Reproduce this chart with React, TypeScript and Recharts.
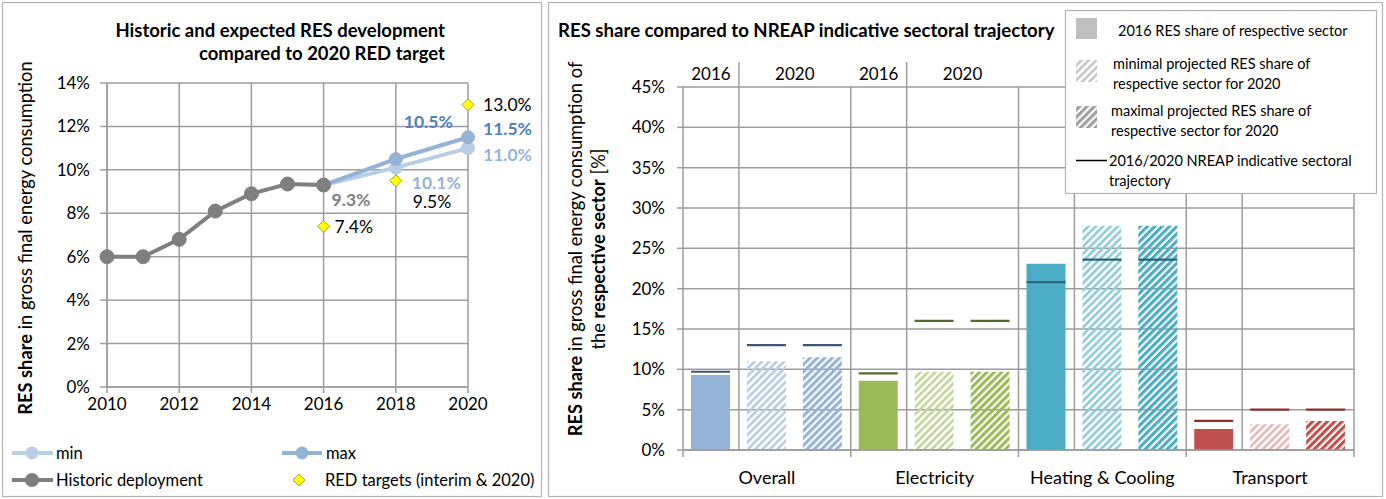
import React from 'react';
import { LineChart, Line, XAxis, YAxis, CartesianGrid, ComposedChart, Bar, Cell } from 'recharts';

const FONT = 'Lato, "Noto Sans", sans-serif';
const GRID = '#9d9d9d';
const BORDER = '#b4b4b4';

// ---------------- Left chart data ----------------
const years = [2010, 2011, 2012, 2013, 2014, 2015, 2016, 2018, 2020];
const historic: (number | null)[] = [6.0, 6.0, 6.8, 8.1, 8.9, 9.35, 9.3, null, null];
const projectedMin: (number | null)[] = [null, null, null, null, null, null, 9.3, 10.1, 11.0];
const projectedMax: (number | null)[] = [null, null, null, null, null, null, 9.3, 10.5, 11.5];
const redTargets: (number | null)[] = [null, null, null, null, null, null, 7.4, 9.5, 13.0];
const leftYTicks = [0, 2, 4, 6, 8, 10, 12, 14];
const leftXTicks = [2010, 2012, 2014, 2016, 2018, 2020];

// ---------------- Right chart data ----------------
const sectors = ['Overall', 'Electricity', 'Heating & Cooling', 'Transport'];
const share2016 = [9.3, 8.6, 23.1, 2.6];
const minProjected2020 = [11.0, 9.7, 27.8, 3.2];
const maxProjected2020 = [11.5, 9.7, 27.8, 3.6];
const nreap2016 = [9.7, 9.5, 20.8, 3.6];
const nreap2020 = [13.0, 16.0, 23.6, 5.0];
const periodLabels = ['2016', '2020'];
const sectorsWithPeriodHeader = 2; // the legend box hides the header of the last two sectors
const rightYTicks = [0, 5, 10, 15, 20, 25, 30, 35, 40, 45];

// colours
const C_HIST = '#7f7f7f';
const C_MAX = '#95b3d7';
const C_MIN = '#b9cde5';
const C_MAXLBL = '#4f81bd';
const sectorColors = ['#95b3d7', '#9bbb59', '#4bacc6', '#c0504d'];
const sectorLight = ['#b9cde5', '#c3d69b', '#92cddc', '#e6b9b8'];
const nreapColors = ['#3a5576', '#566b2c', '#2b6676', '#8a2f2c'];

const leftRows = years.map((year, i) => ({
  year,
  historic: historic[i],
  min: projectedMin[i],
  max: projectedMax[i],
  target: redTargets[i],
}));

const barRows = sectors.flatMap((s, i) => [
  { slot: s + '|2016', sector: i, kind: 0, value: share2016[i], nreap: nreap2016[i] },
  { slot: s + '|min', sector: i, kind: 1, value: minProjected2020[i], nreap: nreap2020[i] },
  { slot: s + '|max', sector: i, kind: 2, value: maxProjected2020[i], nreap: nreap2020[i] },
]);

// label placement (text start offset from point, px)
const labelOffsets: Record<string, Record<number, [number, number]>> = {
  historic: { 2016: [8, 14] },
  min: { 2018: [16, 15], 2020: [15, 6] },
  max: { 2018: [8, -38], 2020: [15, -9] },
  target: { 2016: [11, 0], 2018: [17, 21], 2020: [15, 0] },
};

const makeLabel = (series: string, color: string, bold: boolean) => (props: any) => {
  const { x, y, value, index } = props;
  if (value == null || x == null || y == null) return <g />;
  const yr = leftRows[index]?.year;
  const off = labelOffsets[series][yr];
  if (!off) return <g />;
  return (
    <text
      x={x + off[0]}
      y={y + off[1]}
      dominantBaseline="central"
      fill={color}
      fontWeight={bold ? 700 : 400}
      fontSize={17.5}
      fontFamily={FONT}
    >
      {Number(value).toFixed(1)}%
    </text>
  );
};

const Diamond = (props: any) => {
  const { cx, cy, payload } = props;
  if (cx == null || cy == null || payload?.target == null) return <g />;
  const s = 6;
  return (
    <path
      d={`M${cx},${cy - s} L${cx + s},${cy} L${cx},${cy + s} L${cx - s},${cy} Z`}
      fill="#ffff00"
      stroke="#8c8c30"
      strokeWidth={0.8}
    />
  );
};

// right chart geometry (svg-local)
const R_W = 838;
const R_H = 499;
const R_MARGIN = { top: 62, right: 32, bottom: 9, left: 75 };
const R_YAXIS_W = 60;
const R_PLOT_L = R_MARGIN.left + R_YAXIS_W;
const R_PLOT_W = R_W - R_MARGIN.right - R_PLOT_L;
const R_PLOT_T = 87;
const R_PLOT_B = 450;
const BW = R_PLOT_W / 12;

const TopTick = (props: any) => {
  const { x, index } = props;
  const k = index % 3;
  if (Math.floor(index / 3) >= sectorsWithPeriodHeader) return <g />;
  const tStyle = { fontFamily: FONT, fontSize: 17, fill: '#000' };
  if (k === 0)
    return (
      <g>
        <text x={x} y={73} textAnchor="middle" dominantBaseline="central" style={tStyle}>
          {periodLabels[0]}
        </text>
        <line x1={x + BW / 2} x2={x + BW / 2} y1={62} y2={R_PLOT_T} stroke={GRID} strokeWidth={1.5} />
      </g>
    );
  if (k === 2)
    return (
      <text x={x - BW / 2} y={73} textAnchor="middle" dominantBaseline="central" style={tStyle}>
        {periodLabels[1]}
      </text>
    );
  return <g />;
};

const BottomTick = (props: any) => {
  const { x, index } = props;
  const k = index % 3;
  return (
    <g>
      {k === 0 && (
        <line x1={x - BW / 2} x2={x - BW / 2} y1={R_PLOT_B} y2={R_PLOT_B + 7} stroke={GRID} strokeWidth={1.5} />
      )}
      {index === 11 && (
        <line x1={x + BW / 2} x2={x + BW / 2} y1={R_PLOT_B} y2={R_PLOT_B + 7} stroke={GRID} strokeWidth={1.5} />
      )}
      {k === 1 && (
        <text
          x={x}
          y={477}
          textAnchor="middle"
          dominantBaseline="central"
          style={{ fontFamily: FONT, fontSize: 18, fill: '#000' }}
        >
          {sectors[Math.floor(index / 3)]}
        </text>
      )}
    </g>
  );
};

const NreapLine = (props: any) => {
  const { x, y, width, index } = props;
  const row = barRows[index];
  if (x == null || y == null || !row) return <g />;
  return (
    <line x1={x} x2={x + width} y1={y} y2={y} stroke={nreapColors[row.sector]} strokeWidth={2.2} />
  );
};

const fillFor = (row: any) => {
  if (row.kind === 0) return sectorColors[row.sector];
  if (row.kind === 1) return `url(#hatch-min-${row.sector})`;
  return `url(#hatch-max-${row.sector})`;
};

const Hatch = ({ id, color, w }: { id: string; color: string; w: number }) => (
  <pattern id={id} patternUnits="userSpaceOnUse" width={5.2} height={5.2} patternTransform="rotate(45)">
    <rect x={0} y={0} width={w} height={5.2} fill={color} />
  </pattern>
);

export default function App() {
  const leftTick = { fontFamily: FONT, fontSize: 17, fill: '#000' };
  const txt = { fontFamily: FONT, fill: '#000' } as const;
  return (
    <div style={{ position: 'absolute', left: 0, top: 0, width: 1386, height: 499, background: '#fff', fontFamily: FONT }}>
      <svg width={0} height={0} style={{ position: 'absolute' }}>
        <defs>
          {sectorColors.map((c, i) => (
            <Hatch key={'mx' + i} id={`hatch-max-${i}`} color={c} w={3.1} />
          ))}
          {sectorLight.map((c, i) => (
            <Hatch key={'mn' + i} id={`hatch-min-${i}`} color={c} w={2.7} />
          ))}
          <Hatch id="hatch-min-gray" color="#c8c8c8" w={2.7} />
          <Hatch id="hatch-max-gray" color="#a0a0a0" w={3.1} />
        </defs>
      </svg>

      {/* Left chart */}
      <div style={{ position: 'absolute', left: 0, top: 0 }}>
        <LineChart width={545} height={499} data={leftRows} margin={{ top: 83, right: 77, bottom: 82, left: 47 }}>
          <CartesianGrid stroke={GRID} strokeWidth={1.5} />
          <XAxis
            type="number"
            dataKey="year"
            domain={[2010, 2020]}
            ticks={leftXTicks}
            height={30}
            tickSize={6}
            tickMargin={5}
            stroke={GRID}
            strokeWidth={1.5}
            tick={leftTick}
            interval={0}
          />
          <YAxis
            type="number"
            domain={[0, 14]}
            ticks={leftYTicks}
            width={60}
            tickSize={7}
            tickMargin={10}
            stroke={GRID}
            strokeWidth={1.5}
            tick={leftTick}
            tickFormatter={(v: number) => `${v}%`}
            interval={0}
          />
          <Line
            dataKey="min"
            stroke={C_MIN}
            strokeWidth={4}
            dot={{ r: 6.5, fill: C_MIN, stroke: C_MIN, strokeWidth: 1 }}
            activeDot={false}
            isAnimationActive={false}
            label={makeLabel('min', C_MAX, true)}
          />
          <Line
            dataKey="max"
            stroke={C_MAX}
            strokeWidth={4}
            dot={{ r: 6.5, fill: C_MAX, stroke: C_MAX, strokeWidth: 1 }}
            activeDot={false}
            isAnimationActive={false}
            label={makeLabel('max', C_MAXLBL, true)}
          />
          <Line
            dataKey="historic"
            stroke={C_HIST}
            strokeWidth={4}
            dot={{ r: 7, fill: C_HIST, stroke: C_HIST, strokeWidth: 1 }}
            activeDot={false}
            isAnimationActive={false}
            label={makeLabel('historic', C_HIST, true)}
          />
          <Line
            dataKey="target"
            stroke="none"
            dot={<Diamond />}
            activeDot={false}
            isAnimationActive={false}
            label={makeLabel('target', '#000', false)}
          />
        </LineChart>
      </div>

      {/* Right chart */}
      <div style={{ position: 'absolute', left: 548, top: 0 }}>
        <ComposedChart width={R_W} height={R_H} data={barRows} margin={R_MARGIN}>
          <CartesianGrid
            stroke={GRID}
            strokeWidth={1.5}
            verticalCoordinatesGenerator={(p: any) => {
              const l = p?.offset?.left ?? R_PLOT_L;
              const w = p?.offset?.width ?? R_PLOT_W;
              return [1, 3, 4, 6, 7, 9, 10, 12].map((k) => l + (w * k) / 12);
            }}
          />
          <XAxis dataKey="slot" height={40} interval={0} tick={<BottomTick />} tickLine={false} stroke={GRID} strokeWidth={1.5} />
          <XAxis
            xAxisId="top"
            orientation="top"
            dataKey="slot"
            height={25}
            interval={0}
            tick={<TopTick />}
            tickLine={false}
            axisLine={false}
          />
          <YAxis
            type="number"
            domain={[0, 45]}
            ticks={rightYTicks}
            width={R_YAXIS_W}
            tickSize={6}
            tickMargin={12}
            stroke={GRID}
            strokeWidth={1.5}
            tick={{ fontFamily: FONT, fontSize: 17, fill: '#000' }}
            tickFormatter={(v: number) => `${v}%`}
            interval={0}
          />
          <Bar dataKey="value" barSize={39} isAnimationActive={false}>
            {barRows.map((r, i) => (
              <Cell key={i} fill={fillFor(r)} />
            ))}
          </Bar>
          <Bar dataKey="nreap" xAxisId="top" barSize={39} isAnimationActive={false} shape={<NreapLine />} />
        </ComposedChart>
      </div>

      {/* Overlay: titles, axis titles, legends, panel borders */}
      <svg width={1386} height={499} style={{ position: 'absolute', left: 0, top: 0, pointerEvents: 'none' }}>
        <rect x={2.5} y={2.5} width={539} height={494} fill="none" stroke={BORDER} strokeWidth={1.2} />
        <rect x={548.5} y={2.5} width={834} height={494} fill="none" stroke={BORDER} strokeWidth={1.2} />

        {/* left title */}
        <text x={445} y={30} textAnchor="end" dominantBaseline="central" fontWeight={700} fontSize={18.5} style={txt}>
          Historic and expected RES development
        </text>
        <text x={445} y={53} textAnchor="end" dominantBaseline="central" fontWeight={700} fontSize={18.5} style={txt}>
          compared to 2020 RED target
        </text>

        {/* left y title */}
        <text
          x={25}
          y={238}
          transform="rotate(-90 25 238)"
          textAnchor="middle"
          dominantBaseline="central"
          fontSize={18.3}
          style={txt}
        >
          <tspan fontWeight={700}>RES share</tspan> in gross final energy consumption
        </text>

        {/* left legend */}
        <line x1={12} x2={53} y1={453} y2={453} stroke={C_MIN} strokeWidth={4} />
        <circle cx={32} cy={453} r={6.5} fill={C_MIN} />
        <text x={56} y={453} dominantBaseline="central" fontSize={16.5} style={txt}>min</text>
        <line x1={282} x2={322} y1={453} y2={453} stroke={C_MAX} strokeWidth={4} />
        <circle cx={302} cy={453} r={6.5} fill={C_MAX} />
        <text x={326} y={453} dominantBaseline="central" fontSize={16.5} style={txt}>max</text>
        <line x1={12} x2={53} y1={480} y2={480} stroke={C_HIST} strokeWidth={4} />
        <circle cx={32} cy={480} r={7} fill={C_HIST} />
        <text x={56} y={480} dominantBaseline="central" fontSize={16.5} style={txt}>Historic deployment</text>
        <path d="M299,474 L305,480 L299,486 L293,480 Z" fill="#ffff00" stroke="#8c8c30" strokeWidth={0.8} />
        <text x={325} y={480} dominantBaseline="central" fontSize={16.5} style={txt}>RED targets (interim &amp; 2020)</text>

        {/* right title */}
        <text x={558} y={30} dominantBaseline="central" fontWeight={700} fontSize={18.6} style={txt}>
          RES share compared to NREAP indicative sectoral trajectory
        </text>

        {/* right y title */}
        <text x={575} y={249} transform="rotate(-90 575 249)" textAnchor="middle" dominantBaseline="central" fontSize={18.3} style={txt}>
          <tspan fontWeight={700}>RES share</tspan> in gross final energy consumption of
        </text>
        <text x={598} y={249} transform="rotate(-90 598 249)" textAnchor="middle" dominantBaseline="central" fontSize={18.3} style={txt}>
          the <tspan fontWeight={700}>respective sector</tspan> [%]
        </text>

        {/* right legend */}
        <rect x={1065.5} y={10.5} width={311} height={183} fill="#fff" stroke={BORDER} strokeWidth={1.2} />
        <rect x={1076} y={18} width={21} height={21} fill="#bfbfbf" />
        <text x={1118} y={30} dominantBaseline="central" fontSize={14.5} style={txt}>2016 RES share of respective sector</text>
        <rect x={1076} y={60} width={21} height={22} fill="url(#hatch-min-gray)" />
        <text x={1113} y={63} dominantBaseline="central" fontSize={14.5} style={txt}>minimal projected RES share of</text>
        <text x={1113} y={83} dominantBaseline="central" fontSize={14.5} style={txt}>respective sector for 2020</text>
        <rect x={1076} y={106} width={21} height={22} fill="url(#hatch-max-gray)" />
        <text x={1111} y={110} dominantBaseline="central" fontSize={14.5} style={txt}>maximal projected RES share of</text>
        <text x={1111} y={130} dominantBaseline="central" fontSize={14.5} style={txt}>respective sector for 2020</text>
        <line x1={1076} x2={1107} y1={160.5} y2={160.5} stroke="#000" strokeWidth={1.5} />
        <text x={1109} y={160} dominantBaseline="central" fontSize={14.5} style={txt}>2016/2020 NREAP indicative sectoral</text>
        <text x={1109} y={180} dominantBaseline="central" fontSize={14.5} style={txt}>trajectory</text>
      </svg>
    </div>
  );
}
